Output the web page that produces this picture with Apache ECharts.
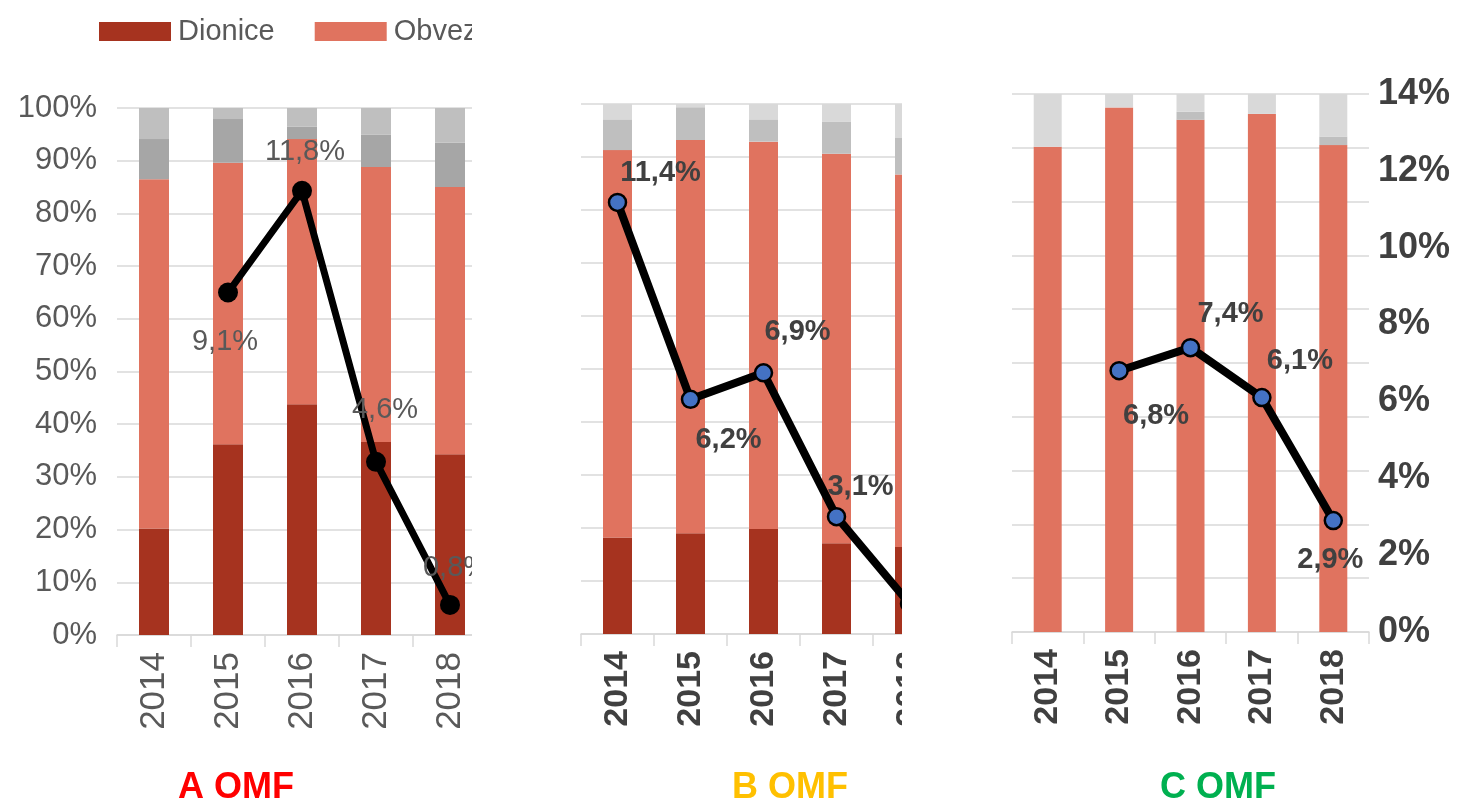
<!DOCTYPE html>
<html>
<head>
<meta charset="utf-8">
<script src="https://cdn.jsdelivr.net/npm/echarts@6/dist/echarts.min.js"></script>
<style>
  html, body { margin: 0; padding: 0; background: #fff; width: 1464px; height: 806px; overflow: hidden; }
  .clip { position: absolute; top: 0; height: 806px; overflow: hidden; }
  .inner { position: absolute; top: 0; left: 0; height: 806px; }
</style>
</head>
<body>
<div class="clip" style="left:0px;width:472px;"><div id="ca" class="inner" style="width:620px;"></div></div>
<div class="clip" style="left:490px;width:412px;"><div id="cb" class="inner" style="width:620px;"></div></div>
<div class="clip" style="left:990px;width:474px;"><div id="cc" class="inner" style="width:474px;"></div></div>
<script>
// ---- data ----
const years = ['2014', '2015', '2016', '2017', '2018'];
const yTicksLeft = ['0%', '10%', '20%', '30%', '40%', '50%', '60%', '70%', '80%', '90%', '100%'];
const yTicksRight = ['0%', '2%', '4%', '6%', '8%', '10%', '12%', '14%'];

// A OMF – portfolio structure (% of assets, stacked)
const aDionice   = [20.2, 36.2, 43.8, 36.6, 34.3];
const aObveznice = [66.3, 53.4, 50.3, 52.2, 50.7];
const aOstalo1   = [7.6, 8.3, 2.4, 6.1, 8.4];
const aOstalo2   = [5.9, 2.1, 3.5, 5.1, 6.6];
const aPrinos    = [null, 9.1, 11.8, 4.6, 0.8];

// B OMF
const bDionice   = [18.2, 19.0, 19.8, 17.1, 16.4];
const bObveznice = [73.1, 74.2, 73.1, 73.5, 70.3];
const bOstalo1   = [5.8, 6.2, 4.2, 6.1, 6.9];
const bOstalo2   = [2.9, 0.6, 2.9, 3.3, 6.4];
const bPrinos    = [11.4, 6.2, 6.9, 3.1, 0.8];

// C OMF
const cDionice   = [0, 0, 0, 0, 0];
const cObveznice = [90.2, 97.5, 95.2, 96.3, 90.5];
const cOstalo1   = [0, 0, 1.5, 0, 1.6];
const cOstalo2   = [9.8, 2.5, 3.3, 3.7, 7.9];
const cPrinos    = [null, 6.8, 7.4, 6.1, 2.9];

const FONT = "'Liberation Sans', Arial, sans-serif";
const C_DIO = '#A6331F', C_OBV = '#E0735F';

function fmtPct(v) { return String(v).replace('.', ',') + '%'; }

function buildOption(cfg) {
  const barBase = (name, data, color) => ({
    name, type: 'bar', stack: 'total', data, barWidth: cfg.barWidth,
    itemStyle: { color }, emphasis: { disabled: true }, yAxisIndex: 0
  });
  const lineData = cfg.prinos.map((v, i) => {
    if (v === null) return null;
    const lp = cfg.labels[i];
    return {
      value: v,
      label: lp ? { show: true, position: lp[0], offset: [lp[1], lp[2]] } : { show: false }
    };
  });
  return {
    animation: false,
    textStyle: { fontFamily: FONT },
    legend: cfg.legend ? {
      data: ['Dionice', 'Obveznice'],
      left: 94, top: 12, icon: 'rect', itemWidth: 72, itemHeight: 19, itemGap: 40,
      textStyle: { fontSize: 29, color: '#595959', fontFamily: FONT, padding: [0, 0, 0, 2] }
    } : { show: false },
    grid: { left: cfg.gridLeft, top: cfg.gridTop, width: cfg.gridWidth, height: cfg.gridHeight },
    xAxis: {
      type: 'category', data: years,
      axisLine: { lineStyle: { color: '#D9D9D9', width: 1.5 } },
      axisTick: { show: true, length: 12, lineStyle: { color: '#D9D9D9', width: 1.5 } },
      axisLabel: { rotate: 90, margin: 17, fontSize: cfg.xFontSize, color: cfg.xColor,
                   fontWeight: cfg.xBold ? 'bold' : 'normal', fontFamily: FONT }
    },
    yAxis: [
      {
        type: 'value', min: 0, max: 100, interval: 10,
        axisLine: { show: false }, axisTick: { show: false },
        axisLabel: { show: cfg.leftLabels, margin: 20, fontSize: 31, color: '#595959',
                     formatter: (v) => yTicksLeft[Math.round(v / 10)] },
        splitLine: { lineStyle: { color: '#D9D9D9', width: 1.5 } }
      },
      {
        type: 'value', min: 0, max: 14, interval: 2, position: 'right',
        axisLine: { show: false }, axisTick: { show: false },
        axisLabel: { show: cfg.rightLabels, margin: 9, fontSize: 36, fontWeight: 'bold', color: '#404040',
                     formatter: (v) => yTicksRight[Math.round(v / 2)] },
        splitLine: { show: false }
      }
    ],
    series: [
      barBase('Dionice', cfg.dio, C_DIO),
      barBase('Obveznice', cfg.obv, C_OBV),
      barBase('Ostalo 1', cfg.o1, cfg.g1),
      barBase('Ostalo 2', cfg.o2, cfg.g2),
      {
        name: 'Prinos', type: 'line', yAxisIndex: 1, data: lineData, z: 5,
        symbol: 'circle', symbolSize: cfg.symbolSize, connectNulls: false,
        lineStyle: { color: '#000', width: cfg.lineWidth },
        itemStyle: { color: cfg.markerColor, borderColor: '#000', borderWidth: cfg.markerBorder },
        emphasis: { disabled: true },
        label: {
          fontSize: 29, color: cfg.labelColor, fontWeight: cfg.labelBold ? 'bold' : 'normal',
          fontFamily: FONT, formatter: (p) => fmtPct(p.value)
        }
      }
    ],
    graphic: [{
      type: 'text', x: cfg.titleX, y: 788,
      style: { text: cfg.title, fill: cfg.titleColor, font: "bold 36px 'Liberation Sans', Arial, sans-serif",
               textAlign: 'center', textVerticalAlign: 'middle' }
    }]
  };
}

const optA = buildOption({
  legend: true, gridLeft: 117, gridTop: 108, gridWidth: 370, gridHeight: 527, barWidth: 30,
  dio: aDionice, obv: aObveznice, o1: aOstalo1, o2: aOstalo2, g1: '#A6A6A6', g2: '#BFBFBF',
  prinos: aPrinos,
  labels: [null, ['bottom', -3, 20], ['top', 3, -9], ['top', 9, -22], ['top', 6, -7]],
  xFontSize: 35, xColor: '#595959', xBold: false, leftLabels: true, rightLabels: false,
  symbolSize: 20, lineWidth: 7, markerColor: '#000', markerBorder: 0,
  labelColor: '#595959', labelBold: false,
  title: 'A OMF', titleX: 236, titleColor: '#FF0000'
});
const optB = buildOption({
  legend: false, gridLeft: 91, gridTop: 104, gridWidth: 365, gridHeight: 530, barWidth: 29,
  dio: bDionice, obv: bObveznice, o1: bOstalo1, o2: bOstalo2, g1: '#BFBFBF', g2: '#D9D9D9',
  prinos: bPrinos,
  labels: [['top', 43, 0], ['bottom', 38, 11], ['top', 34, -12], ['top', 24, 0], null],
  xFontSize: 34, xColor: '#404040', xBold: true, leftLabels: false, rightLabels: false,
  symbolSize: 17, lineWidth: 8, markerColor: '#4472C4', markerBorder: 2.5,
  labelColor: '#404040', labelBold: true,
  title: 'B OMF', titleX: 300, titleColor: '#FFC000'
});
const optC = buildOption({
  legend: false, gridLeft: 22, gridTop: 94, gridWidth: 357, gridHeight: 538, barWidth: 28,
  dio: cDionice, obv: cObveznice, o1: cOstalo1, o2: cOstalo2, g1: '#BFBFBF', g2: '#D9D9D9',
  prinos: cPrinos,
  labels: [null, ['bottom', 37, 16], ['top', 40, -4], ['top', 38, -7], ['bottom', -3, 10]],
  xFontSize: 34, xColor: '#404040', xBold: true, leftLabels: false, rightLabels: true,
  symbolSize: 17, lineWidth: 8, markerColor: '#4472C4', markerBorder: 2.5,
  labelColor: '#404040', labelBold: true,
  title: 'C OMF', titleX: 228, titleColor: '#00B050'
});

echarts.init(document.getElementById('ca'), null, { renderer: 'canvas' }).setOption(optA);
echarts.init(document.getElementById('cb'), null, { renderer: 'canvas' }).setOption(optB);
echarts.init(document.getElementById('cc'), null, { renderer: 'canvas' }).setOption(optC);
</script>
</body>
</html>
